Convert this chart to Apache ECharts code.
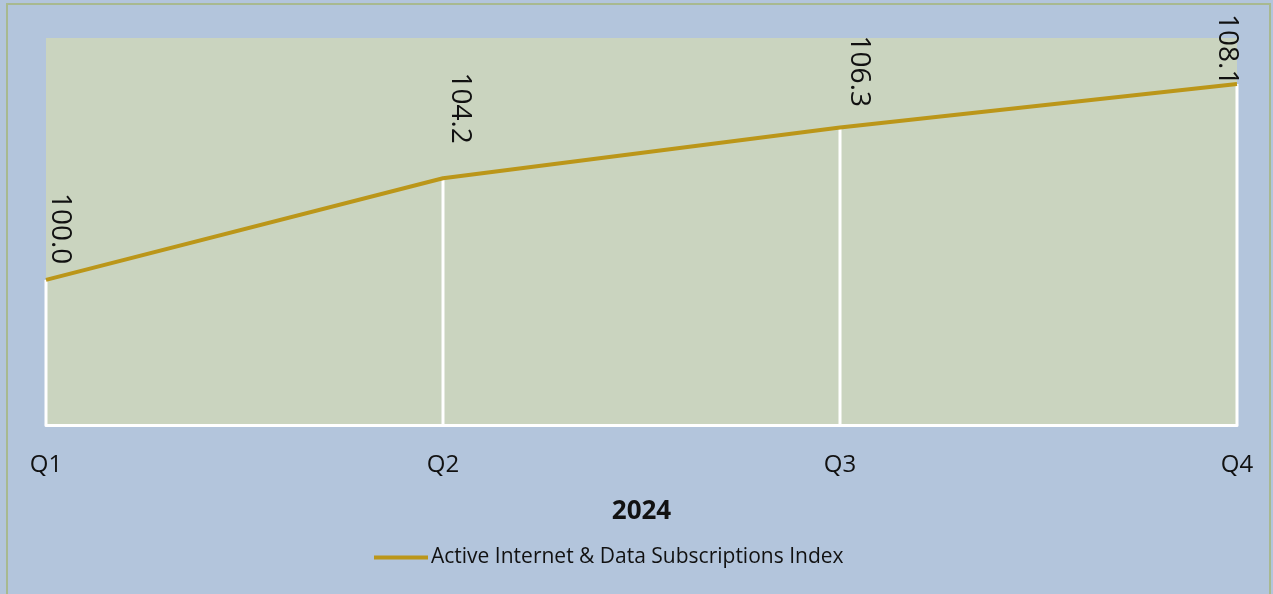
<!DOCTYPE html>
<html><head><meta charset="utf-8">
<script src="https://cdn.jsdelivr.net/npm/echarts@6/dist/echarts.min.js"></script>
<style>html,body{margin:0;padding:0;background:#b3c5dc;}#c{width:1273px;height:594px;}</style>
</head><body><div id="c"></div>
<script>
const categories = ['Q1', 'Q2', 'Q3', 'Q4'];
const indexValues = [100.0, 104.2, 106.3, 108.1];
const seriesName = 'Active Internet & Data Subscriptions Index';
const axisTitle = '2024';

// label offsets in the rotated label frame: [along text, across text]
const labelOffsets = [[-15, -14], [-34, -17], [-20, -19], [2, 10]];
const FONT = 'Open Sans';
const LINE = '#bb9619';

const chart = echarts.init(document.getElementById('c'));
chart.setOption({
  backgroundColor: '#b3c5dc',
  animation: false,
  graphic: [{
    type: 'rect', shape: {x: 7, y: 4, width: 1263, height: 600},
    style: {fill: 'none', stroke: '#a8b990', lineWidth: 2}, z: -1
  }],
  grid: {left: 46, right: 36, top: 38, bottom: 169, show: true, backgroundColor: '#cad4bf', borderWidth: 0},
  legend: {
    data: [seriesName], top: 542, left: 369,
    itemWidth: 54, itemHeight: 4, itemGap: 4,
    icon: 'rect',
    itemStyle: {color: LINE, opacity: 1},
    textStyle: {fontFamily: FONT, fontSize: 21, color: '#111', padding: [0, 0, 0, -2]}
  },
  xAxis: {
    type: 'category', data: categories, boundaryGap: false,
    axisLine: {lineStyle: {color: '#ffffff', width: 3}},
    axisTick: {show: false},
    axisLabel: {fontFamily: FONT, fontSize: 24, color: '#111', margin: 28},
    name: axisTitle, nameLocation: 'middle', nameGap: 74,
    nameTextStyle: {fontFamily: FONT, fontSize: 26, fontWeight: 'bold', color: '#111'}
  },
  yAxis: {type: 'value', min: 94, max: 110, show: false, splitLine: {show: false}},
  series: [
    {
      type: 'bar', name: 'drop', data: indexValues, barWidth: 3,
      itemStyle: {color: '#ffffff'}, silent: true, z: 1
    },
    {
      type: 'line', name: seriesName, z: 3,
      data: indexValues.map((v, i) => ({
        value: v,
        label: {offset: labelOffsets[i]}
      })),
      symbol: 'circle', symbolSize: 1, showSymbol: true,
      lineStyle: {color: LINE, width: 4},
      itemStyle: {color: 'rgba(0,0,0,0)', borderWidth: 0},
      label: {
        show: true, position: 'top', distance: 0, rotate: -90, align: 'right', verticalAlign: 'middle',
        fontFamily: FONT, fontSize: 28, color: '#111',
        formatter: p => p.value.toFixed(1)
      }
    }
  ]
});
</script></body></html>
